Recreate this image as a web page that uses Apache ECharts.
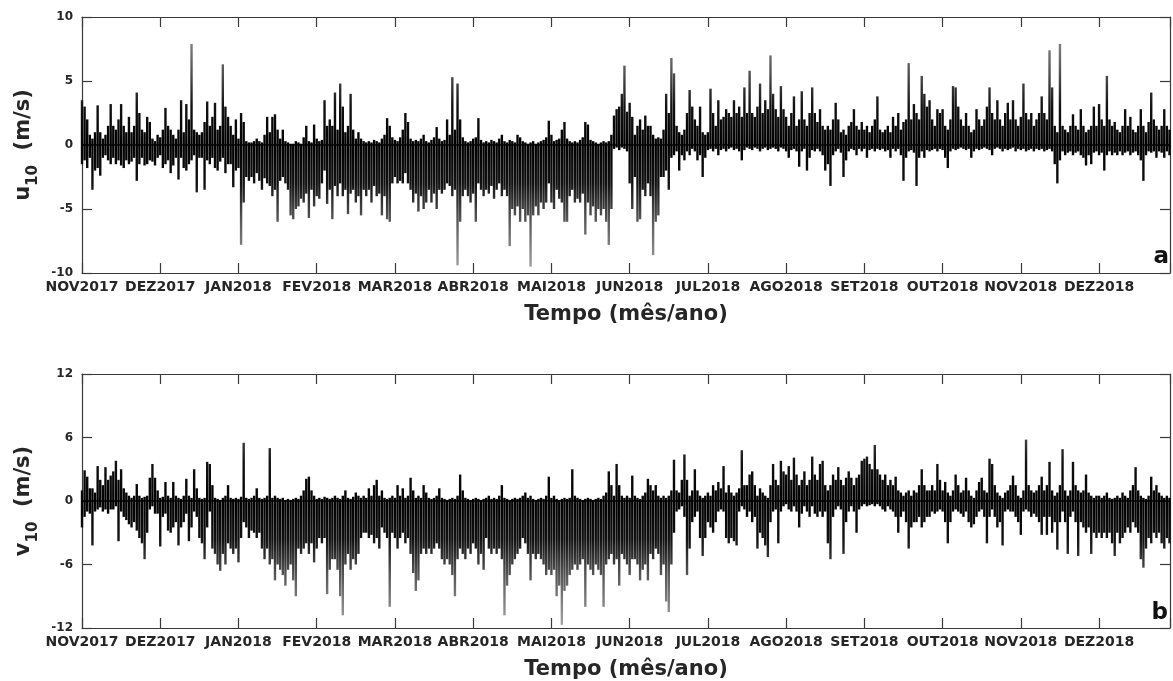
<!DOCTYPE html>
<html>
<head>
<meta charset="utf-8">
<script src="https://cdn.jsdelivr.net/npm/echarts@6/dist/echarts.min.js"></script>
<style>
  html, body { margin: 0; padding: 0; background: #ffffff; }
  #chart { width: 1173px; height: 681px; }
</style>
</head>
<body>
<div id="chart"></div>
<script>
// ---- tick labels ----
const monthLabels = ['NOV2017','DEZ2017','JAN2018','FEV2018','MAR2018','ABR2018','MAI2018',
  'JUN2018','JUL2018','AGO2018','SET2018','OUT2018','NOV2018','DEZ2018'];
const daysPerMonthTick = 30;
const uTicks = [-10, -5, 0, 5, 10];
const vTicks = [-12, -6, 0, 6, 12];

// ---- u10 daily positive / negative excursions (m/s), day 0 = 01 Nov 2017 ----
const uHi = [
3.5,3.0,2.0,0.8,0.5,1.0,3.1,1.0,0.5,0.8,
1.5,3.2,1.5,1.2,2.0,3.2,1.5,1.0,2.2,1.0,
1.5,4.1,2.5,1.2,1.0,2.2,1.8,0.5,0.3,0.8,
0.6,1.2,2.9,1.5,1.2,0.8,0.5,1.2,3.5,1.0,
3.2,2.0,7.9,1.2,1.0,0.8,1.0,1.8,3.4,1.5,
2.2,3.3,1.2,1.5,6.3,3.0,2.2,1.5,0.8,2.0,
0.5,2.5,1.8,0.3,0.2,0.2,0.3,0.5,0.3,0.2,
0.8,2.2,1.0,2.2,2.4,1.2,0.5,1.2,0.3,0.2,
0.1,0.1,0.3,0.2,0.1,0.6,1.5,0.3,0.2,1.6,
0.5,0.3,0.4,3.5,1.5,2.0,1.5,4.1,1.2,4.8,
3.0,1.0,1.5,4.0,1.2,0.5,1.0,0.5,0.3,0.2,
0.3,0.2,0.4,0.3,0.2,0.5,0.8,2.1,1.5,0.6,
0.4,0.3,0.6,1.2,2.5,1.8,0.5,0.3,0.4,0.3,
0.5,0.8,0.3,0.2,0.4,0.6,1.4,0.5,0.3,0.4,
2.0,0.8,5.3,1.2,4.8,2.0,0.6,0.3,0.2,0.3,
0.5,0.6,2.1,0.4,0.2,0.3,0.2,0.4,0.3,0.2,
0.5,0.8,0.3,0.2,0.4,0.3,0.2,0.8,0.6,0.3,
0.2,0.1,0.2,0.3,0.1,0.2,0.3,0.4,0.6,1.9,
0.8,0.3,0.4,0.5,1.2,1.8,0.5,0.3,0.2,0.3,
0.2,0.4,0.6,1.8,1.6,0.4,0.3,0.2,0.1,0.2,
0.3,0.2,0.3,0.8,2.3,2.8,3.0,4.0,6.2,2.6,
3.3,2.2,0.8,1.5,2.0,1.2,2.3,1.5,1.5,0.8,
0.5,0.6,0.5,1.2,4.0,2.5,6.8,5.6,1.5,1.0,
0.8,1.2,2.5,4.3,3.0,2.0,1.5,3.0,1.0,0.8,
1.0,4.4,2.5,1.5,3.5,2.0,2.2,2.8,2.5,2.2,
3.5,2.5,3.0,2.2,4.5,2.5,5.8,2.5,2.2,3.0,
4.8,2.5,3.5,2.8,7.0,4.0,2.8,2.2,4.6,2.8,
2.2,1.5,2.5,3.8,1.5,2.0,4.2,2.0,1.5,2.5,
4.5,2.5,1.8,2.8,1.5,1.2,1.5,1.2,2.0,3.3,
2.0,1.0,1.2,0.8,1.5,1.8,2.8,1.5,1.2,1.8,
1.2,1.5,1.0,1.5,2.0,3.8,1.2,1.0,1.2,1.5,
1.0,2.2,1.5,2.5,1.2,1.8,2.0,6.4,2.0,3.2,
2.5,2.0,5.4,4.0,3.0,3.5,2.0,1.5,2.8,2.5,
2.8,1.5,1.2,2.0,4.6,4.5,3.0,2.0,1.5,2.5,
1.5,1.0,1.2,2.8,2.0,1.5,2.0,3.0,4.5,2.5,
2.0,3.5,2.0,1.5,2.5,3.3,2.0,3.5,2.0,1.5,
2.2,4.8,2.5,2.0,2.5,1.5,2.0,2.5,3.8,2.5,
2.0,7.4,4.5,1.5,1.0,7.9,1.5,1.2,1.0,1.5,
2.4,1.5,1.2,2.8,1.5,1.0,1.2,1.5,3.0,1.5,
3.2,2.0,1.5,5.4,2.0,1.5,1.8,1.2,1.0,1.5,
2.8,1.5,2.2,1.2,1.0,1.5,2.8,1.5,1.0,1.8,
4.1,2.0,1.5,1.2,1.5,2.8,1.5,1.2
];
const uLo = [
-1.5,-1.2,-1.8,-1.0,-3.5,-2.0,-1.8,-2.4,-1.0,-0.8,
-1.2,-1.5,-1.0,-1.5,-1.2,-1.6,-1.8,-1.2,-1.5,-1.3,
-1.0,-2.8,-1.5,-1.0,-1.6,-1.5,-1.2,-1.3,-1.6,-1.0,
-0.8,-1.8,-1.5,-1.2,-2.2,-1.6,-1.0,-2.7,-1.0,-1.8,
-2.0,-1.5,-1.2,-0.8,-3.7,-1.0,-1.0,-3.5,-1.2,-1.5,
-1.0,-1.8,-2.0,-1.3,-1.0,-2.2,-1.5,-1.5,-3.3,-2.0,
-1.8,-7.8,-4.5,-2.5,-2.8,-2.5,-3.0,-2.2,-2.8,-3.5,
-2.6,-3.0,-3.2,-4.0,-3.5,-6.0,-2.8,-2.5,-3.0,-3.5,
-5.5,-5.8,-5.0,-4.8,-4.2,-4.5,-3.8,-5.7,-3.5,-4.8,
-4.0,-4.2,-3.0,-2.0,-4.6,-3.5,-5.8,-3.2,-4.0,-3.0,
-4.0,-3.5,-5.4,-3.8,-3.5,-4.5,-4.0,-5.5,-3.5,-4.0,
-3.5,-4.5,-3.2,-4.0,-3.8,-5.5,-4.0,-5.8,-6.0,-3.0,
-2.5,-3.0,-2.8,-3.0,-2.2,-3.0,-3.5,-4.5,-3.8,-5.2,
-4.0,-5.0,-4.5,-3.5,-4.5,-3.8,-5.0,-3.5,-3.8,-3.5,
-3.0,-3.2,-4.0,-3.5,-9.4,-6.0,-4.0,-3.5,-4.0,-4.5,
-3.8,-6.0,-3.0,-3.5,-4.0,-3.5,-3.8,-3.2,-4.2,-3.5,
-3.0,-4.0,-3.5,-4.0,-7.9,-5.0,-5.5,-4.8,-6.0,-5.0,
-6.0,-5.5,-9.5,-5.5,-4.8,-5.5,-4.5,-5.0,-4.5,-3.0,
-4.5,-5.0,-3.5,-4.2,-4.5,-6.0,-6.0,-4.0,-3.5,-4.5,
-4.2,-4.5,-3.8,-7.0,-4.5,-5.5,-4.8,-6.0,-5.0,-5.5,
-5.0,-6.0,-7.8,-5.0,-0.3,-0.2,-0.4,-0.2,-0.3,-0.5,
-3.0,-5.0,-2.5,-6.0,-5.8,-3.5,-4.0,-3.0,-4.0,-8.6,
-6.0,-5.5,-2.5,-2.5,-2.0,-3.5,-1.0,-0.8,-0.5,-2.0,
-0.8,-1.2,-0.5,-0.8,-0.3,-0.5,-1.2,-0.8,-2.5,-1.0,
-0.4,-0.3,-0.5,-0.3,-0.8,-0.4,-0.3,-0.5,-0.3,-0.2,
-0.4,-0.3,-0.5,-1.2,-0.4,-0.2,-0.3,-0.4,-0.2,-0.3,
-0.5,-0.3,-0.2,-0.4,-0.3,-0.2,-0.3,-0.5,-0.2,-0.3,
-0.5,-1.0,-0.4,-0.3,-0.5,-1.7,-0.5,-0.3,-2.0,-1.0,
-0.4,-0.5,-0.3,-0.5,-0.8,-2.0,-1.5,-3.2,-0.8,-0.5,
-0.3,-0.6,-2.5,-1.2,-0.5,-0.3,-0.4,-0.8,-0.3,-0.5,
-0.3,-1.0,-0.4,-0.3,-0.5,-0.3,-0.4,-0.3,-0.5,-0.4,
-1.0,-0.3,-0.5,-0.3,-0.8,-2.8,-1.0,-0.5,-0.4,-0.6,
-3.2,-1.0,-0.5,-1.0,-0.4,-0.5,-0.4,-0.3,-0.5,-0.3,
-0.4,-1.0,-1.8,-0.5,-0.3,-0.4,-0.3,-0.2,-0.3,-0.4,
-0.3,-1.0,-0.5,-0.3,-0.4,-0.3,-0.2,-0.3,-0.4,-0.8,
-0.3,-0.2,-0.3,-0.5,-0.3,-0.4,-0.3,-0.2,-0.5,-0.3,
-0.4,-0.3,-0.5,-0.4,-0.3,-0.5,-0.3,-0.4,-0.3,-0.5,
-0.4,-0.3,-0.5,-1.5,-3.0,-1.2,-0.5,-0.8,-0.6,-0.5,
-0.8,-0.6,-0.5,-0.8,-1.0,-1.6,-0.8,-1.5,-0.6,-0.5,
-0.8,-0.6,-2.0,-0.8,-0.5,-0.8,-0.6,-0.8,-0.5,-0.8,
-0.6,-0.5,-0.8,-0.6,-0.5,-0.8,-1.2,-2.8,-0.8,-0.5,
-0.6,-0.5,-1.0,-0.5,-0.6,-1.0,-0.5,-0.8
];

// ---- v10 daily positive / negative excursions (m/s) ----
const vHi = [
1.0,2.9,2.3,1.2,1.2,0.8,3.3,2.0,1.5,3.2,
2.0,2.4,2.8,3.8,2.0,3.0,1.2,0.8,0.5,0.3,
0.5,1.6,0.5,0.3,0.4,0.5,2.2,3.5,2.2,1.0,
0.3,0.4,1.8,0.5,0.3,1.8,0.5,0.3,0.2,0.5,
2.1,0.5,0.3,3.0,1.2,0.3,0.2,0.3,3.7,3.5,
1.5,0.3,0.2,0.1,0.3,0.5,1.5,0.3,0.2,0.3,
0.2,0.4,5.5,0.3,0.2,0.3,0.5,1.2,0.3,0.2,
0.3,0.5,5.0,0.3,0.5,0.3,0.2,0.3,0.1,0.2,
0.1,0.2,0.3,0.2,0.5,1.0,2.1,2.3,1.0,0.5,
0.2,0.3,0.2,0.4,0.3,0.2,0.3,0.5,0.3,0.2,
0.5,1.0,0.3,0.2,0.4,0.8,0.5,0.3,0.5,0.3,
1.2,0.5,1.5,2.0,0.5,1.0,0.3,0.2,0.3,0.5,
0.3,1.5,0.5,1.2,0.3,0.5,2.2,1.0,0.3,0.5,
0.3,1.5,0.8,0.3,0.2,0.3,0.5,1.2,0.3,0.2,
0.1,0.2,0.3,0.2,0.5,2.5,1.0,0.3,0.2,0.1,
0.2,0.3,0.2,0.1,0.2,0.3,0.5,0.2,0.3,0.2,
0.5,1.5,0.3,0.2,0.1,0.2,0.3,0.2,0.3,0.5,
0.8,0.3,0.5,0.2,0.1,0.2,0.3,0.2,0.5,2.3,
0.3,0.5,0.2,0.1,0.2,0.3,0.2,0.3,3.0,0.5,
0.3,0.2,0.1,0.2,0.3,0.2,0.1,0.2,0.3,0.2,
0.5,0.8,2.8,1.5,0.5,3.5,1.5,0.5,0.3,0.5,
0.3,2.4,0.5,0.3,0.2,0.5,0.8,2.1,1.5,1.0,
1.5,0.5,0.3,0.5,0.3,0.5,1.0,3.9,1.0,0.8,
2.0,4.4,2.0,0.5,1.0,3.0,1.0,0.5,0.3,0.5,
0.8,0.5,1.5,1.0,1.8,1.2,3.3,0.8,1.5,0.8,
0.5,0.8,1.2,4.8,1.5,1.5,2.5,2.8,1.5,0.5,
1.2,0.8,0.5,0.3,1.5,3.5,2.0,1.5,3.8,2.8,
2.5,3.3,2.0,4.1,2.5,1.5,2.0,2.8,1.5,2.0,
4.2,2.5,2.0,3.5,3.8,1.5,1.0,1.5,2.5,2.0,
3.2,2.0,1.5,2.2,2.8,2.2,1.5,2.2,2.5,3.8,
4.0,4.2,3.5,3.0,5.3,3.0,2.5,2.0,2.5,1.5,
2.0,1.5,2.3,1.0,0.8,0.5,0.8,1.0,0.5,1.0,
0.8,1.5,3.0,1.5,1.0,1.0,1.5,1.0,3.5,2.0,
1.0,1.8,0.8,0.5,1.0,2.5,1.5,0.8,1.0,2.2,
1.0,0.5,0.3,1.0,1.8,2.2,1.0,0.8,4.0,3.5,
1.5,0.8,0.5,0.3,0.8,1.0,1.5,2.4,1.5,0.5,
0.3,1.0,5.8,1.5,1.0,0.8,1.0,1.5,2.3,1.0,
1.5,3.7,1.0,0.5,0.8,1.5,4.9,1.0,0.5,1.0,
3.7,1.5,1.0,0.8,1.0,2.5,0.8,0.5,0.3,0.5,
0.5,0.3,0.5,0.8,0.3,0.2,0.3,0.5,0.3,0.8,
0.5,0.3,1.0,1.5,3.2,1.0,0.5,0.3,0.2,0.5,
2.3,1.0,1.5,0.8,0.5,0.3,0.5,0.3
];
const vLo = [
-2.5,-1.5,-1.0,-1.2,-4.2,-1.0,-0.8,-0.6,-1.0,-0.8,
-1.2,-0.8,-0.8,-0.5,-3.8,-1.0,-1.5,-1.8,-2.2,-2.5,
-2.0,-2.8,-3.5,-4.0,-5.5,-3.0,-0.8,-0.5,-1.2,-1.2,
-4.3,-1.5,-1.2,-2.8,-3.0,-2.5,-2.0,-4.2,-2.5,-2.0,
-1.2,-3.8,-2.5,-1.0,-1.5,-3.5,-4.0,-5.5,-2.5,-1.0,
-4.5,-5.0,-6.0,-6.6,-5.0,-6.0,-4.0,-4.5,-5.0,-4.5,
-5.8,-3.5,-2.0,-2.5,-3.5,-2.8,-3.0,-3.5,-3.0,-4.5,
-5.5,-4.5,-6.0,-5.5,-7.5,-6.0,-6.5,-7.0,-8.0,-6.5,
-6.0,-7.5,-9.0,-4.5,-5.0,-4.5,-4.0,-5.0,-4.0,-5.8,
-4.5,-3.5,-4.0,-3.5,-8.8,-6.5,-5.5,-5.5,-6.5,-9.0,
-10.8,-6.0,-5.0,-6.5,-5.5,-6.0,-5.0,-3.5,-3.0,-3.0,
-3.5,-3.2,-4.0,-3.5,-4.5,-2.5,-3.0,-3.5,-10.0,-3.0,
-3.5,-4.5,-3.5,-3.0,-4.0,-3.5,-5.0,-6.8,-8.5,-7.5,
-5.0,-4.5,-5.0,-4.5,-5.0,-4.5,-4.0,-4.5,-5.5,-6.0,
-5.5,-6.0,-7.0,-9.0,-5.5,-4.5,-5.0,-5.5,-4.5,-5.0,
-4.0,-4.5,-6.0,-5.0,-6.5,-3.5,-4.5,-5.0,-4.5,-5.0,
-4.5,-5.5,-10.8,-8.0,-7.0,-6.0,-5.5,-5.0,-4.5,-3.5,
-4.0,-5.0,-7.5,-5.0,-5.5,-5.0,-5.5,-6.0,-7.0,-6.5,
-7.0,-6.5,-9.0,-8.0,-11.7,-8.5,-8.0,-7.0,-6.5,-6.0,
-6.5,-6.0,-5.5,-10.0,-6.0,-6.5,-7.0,-6.0,-6.5,-7.0,
-10.0,-6.0,-5.5,-5.0,-6.0,-5.5,-8.0,-5.0,-5.5,-6.0,
-7.0,-5.5,-5.5,-6.0,-7.5,-6.5,-6.0,-7.5,-5.0,-5.5,
-4.5,-5.0,-7.0,-6.0,-9.5,-10.5,-6.0,-3.0,-1.0,-0.8,
-0.5,-1.5,-7.0,-4.5,-2.0,-1.5,-1.0,-3.5,-5.2,-3.5,
-2.0,-2.5,-3.0,-2.0,-1.0,-0.8,-1.0,-3.5,-4.0,-3.5,
-3.8,-4.2,-1.0,-0.5,-0.8,-1.5,-1.0,-2.0,-1.5,-4.5,
-3.0,-3.5,-4.2,-5.3,-2.0,-1.0,-0.8,-4.0,-1.0,-0.5,
-0.3,-0.8,-1.0,-0.5,-1.0,-2.5,-1.2,-0.5,-1.0,-1.5,
-0.5,-1.2,-1.5,-1.0,-1.5,-1.0,-4.0,-5.5,-1.5,-0.8,
-0.5,-0.8,-5.0,-2.0,-1.0,-0.5,-1.0,-3.0,-0.8,-0.5,
-0.3,-0.5,-0.4,-0.3,-0.5,-0.3,-0.5,-0.8,-1.0,-0.5,
-0.8,-1.0,-1.5,-3.0,-1.5,-1.0,-2.0,-4.5,-2.5,-2.0,
-2.0,-1.5,-2.5,-2.0,-1.5,-1.5,-1.0,-1.2,-1.0,-0.8,
-1.0,-2.0,-4.0,-2.0,-1.0,-0.8,-1.0,-1.2,-1.5,-1.0,
-2.0,-2.5,-2.2,-1.5,-1.0,-0.8,-1.5,-4.0,-1.5,-0.8,
-1.5,-2.5,-2.0,-4.2,-1.0,-0.8,-1.0,-1.0,-1.5,-2.0,
-3.2,-1.0,-0.8,-1.0,-1.5,-1.2,-1.5,-2.0,-3.2,-1.5,
-3.2,-1.5,-3.0,-2.0,-4.6,-2.0,-1.0,-2.0,-5.0,-1.5,
-1.0,-2.0,-5.2,-2.0,-2.5,-3.0,-2.5,-5.0,-3.0,-3.5,
-3.0,-3.5,-3.0,-3.5,-3.0,-4.0,-5.2,-3.0,-4.0,-3.5,
-3.0,-2.5,-3.0,-2.0,-2.5,-3.0,-5.5,-6.3,-4.5,-3.5,
-4.0,-3.0,-3.5,-3.0,-4.0,-4.5,-3.5,-4.0
];

// ---- build ----
const FONT = "'DejaVu Sans', sans-serif";
const INK = '#262626';
const X_MAX = 417.2;

function rows(hi, lo) {
  return hi.map((h, i) => [i, h, lo[i]]);
}

// shade: dense black near zero, fading to grey toward the panel edge
function shade(x, yZero, yEdge) {
  return {
    type: 'linear', global: true, x: x, y: yZero, x2: x, y2: yEdge,
    colorStops: [
      { offset: 0, color: '#000000' },
      { offset: 0.3, color: '#111111' },
      { offset: 0.6, color: '#5a5a5a' },
      { offset: 1, color: '#a8a8a8' }
    ]
  };
}

function makeRender(ticks) {
  const yMin = ticks[0], yMax = ticks[ticks.length - 1];
  return function (params, api) {
    const x = api.value(0);
    const z = api.coord([x, 0]);
    const top = api.coord([x, api.value(1)]);
    const bot = api.coord([x, api.value(2)]);
    const edgeTop = api.coord([x, yMax]);
    const edgeBot = api.coord([x, yMin]);
    return {
      type: 'group',
      children: [
        { type: 'line', shape: { x1: z[0], y1: z[1], x2: top[0], y2: top[1] },
          style: { stroke: shade(z[0], z[1], edgeTop[1]), lineWidth: 2.4 } },
        { type: 'line', shape: { x1: z[0], y1: z[1], x2: bot[0], y2: bot[1] },
          style: { stroke: shade(z[0], z[1], edgeBot[1]), lineWidth: 2.4 } }
      ]
    };
  };
}

function monthFmt(v) {
  if (Math.abs(v / daysPerMonthTick - Math.round(v / daysPerMonthTick)) > 1e-6) return '';
  const k = Math.round(v / daysPerMonthTick);
  return monthLabels[k] || '';
}

function xAxes(gridIndex) {
  const common = {
    gridIndex, type: 'value', min: 0, max: X_MAX, interval: daysPerMonthTick,
    splitLine: { show: false },
    axisLine: { show: true, onZero: false, lineStyle: { color: '#3a3a3a', width: 1.2 } },
    axisTick: { show: true, inside: true, length: 10, lineStyle: { color: '#3a3a3a', width: 1.2 } }
  };
  return [
    Object.assign({}, common, {
      position: 'bottom',
      axisLabel: { show: true, formatter: monthFmt, color: INK, fontFamily: FONT,
        fontWeight: 'bold', fontSize: 14, margin: 7 },
      name: 'Tempo (mês/ano)', nameLocation: 'middle', nameGap: 31,
      nameTextStyle: { color: INK, fontFamily: FONT, fontWeight: 'bold', fontSize: 21 }
    }),
    Object.assign({}, common, { position: 'top', axisLabel: { show: false } })
  ];
}

function yAxes(gridIndex, ticks, letter) {
  const common = {
    gridIndex, type: 'value', min: ticks[0], max: ticks[ticks.length - 1],
    interval: ticks[1] - ticks[0],
    splitLine: { show: false },
    axisLine: { show: true, onZero: false, lineStyle: { color: '#3a3a3a', width: 1.2 } },
    axisTick: { show: true, inside: true, length: 10, lineStyle: { color: '#3a3a3a', width: 1.2 } }
  };
  const nameStyle = { fontFamily: FONT, fontWeight: 'bold', color: INK };
  return [
    Object.assign({}, common, {
      position: 'left',
      axisLabel: { color: INK, fontFamily: FONT, fontWeight: 'bold', fontSize: 12, margin: 9 },
      name: '{b|' + letter + '}{s|10}{b|  (m/s)}',
      nameLocation: 'middle', nameGap: 36, nameRotate: 90,
      nameTextStyle: {
        rich: {
          b: Object.assign({ fontSize: 21, lineHeight: 24, verticalAlign: 'top' }, nameStyle),
          s: Object.assign({ fontSize: 15, lineHeight: 16, padding: [12, 0, 0, 0], verticalAlign: 'top' }, nameStyle)
        }
      }
    }),
    Object.assign({}, common, { position: 'right', axisLabel: { show: false } })
  ];
}

const chart = echarts.init(document.getElementById('chart'), null, { renderer: 'canvas' });

const zeroLine = {
  silent: true, symbol: 'none', label: { show: false },
  lineStyle: { color: '#000', width: 1.6, type: 'solid' },
  data: [{ yAxis: 0 }]
};

chart.setOption({
  animation: false,
  backgroundColor: '#ffffff',
  grid: [
    { left: 82, top: 17, width: 1090, height: 256 },
    { left: 82, top: 374, width: 1090, height: 257 }
  ],
  xAxis: xAxes(0).concat(xAxes(1)),
  yAxis: yAxes(0, uTicks, 'u').concat(yAxes(1, vTicks, 'v')),
  series: [
    {
      type: 'custom', name: 'u10', xAxisIndex: 0, yAxisIndex: 0,
      renderItem: makeRender(uTicks), encode: { x: 0, y: [1, 2] },
      data: rows(uHi, uLo), markLine: zeroLine, z: 2
    },
    {
      type: 'custom', name: 'v10', xAxisIndex: 2, yAxisIndex: 2,
      renderItem: makeRender(vTicks), encode: { x: 0, y: [1, 2] },
      data: rows(vHi, vLo), markLine: zeroLine, z: 2
    }
  ],
  graphic: [
    { type: 'text', right: 4, top: 246,
      style: { text: 'a', font: 'bold 23px ' + FONT, fill: '#111' } },
    { type: 'text', right: 5, top: 602,
      style: { text: 'b', font: 'bold 23px ' + FONT, fill: '#111' } }
  ]
});
</script>
</body>
</html>
